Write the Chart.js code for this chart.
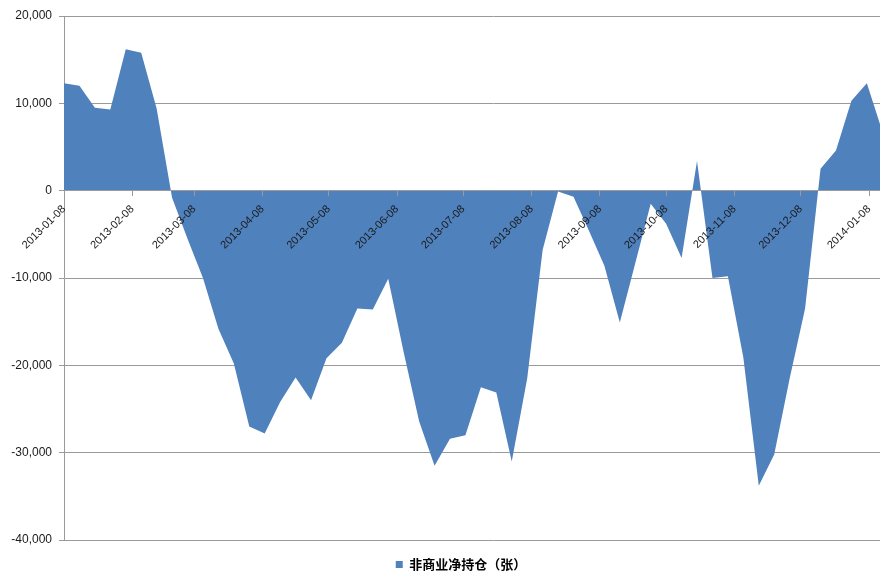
<!DOCTYPE html>
<html>
<head>
<meta charset="utf-8">
<script src="https://cdn.jsdelivr.net/npm/chart.js@4/dist/chart.umd.min.js"></script>
<style>
  html, body { margin: 0; padding: 0; background: #fff; overflow: hidden; width: 880px; height: 572px; }
  #wrap { width: 922px; height: 572px; }
</style>
</head>
<body>
<div id="wrap"><canvas id="cotChart" width="922" height="572"></canvas></div>
<script>
// Weekly report dates (Tuesdays)
const weekDates = [
    '2013-01-08', '2013-01-15', '2013-01-22', '2013-01-29', '2013-02-05', '2013-02-12',
    '2013-02-19', '2013-02-26', '2013-03-05', '2013-03-12', '2013-03-19', '2013-03-26',
    '2013-04-02', '2013-04-09', '2013-04-16', '2013-04-23', '2013-04-30', '2013-05-07',
    '2013-05-14', '2013-05-21', '2013-05-28', '2013-06-04', '2013-06-11', '2013-06-18',
    '2013-06-25', '2013-07-02', '2013-07-09', '2013-07-16', '2013-07-23', '2013-07-30',
    '2013-08-06', '2013-08-13', '2013-08-20', '2013-08-27', '2013-09-03', '2013-09-10',
    '2013-09-17', '2013-09-24', '2013-10-01', '2013-10-08', '2013-10-15', '2013-10-22',
    '2013-10-29', '2013-11-05', '2013-11-12', '2013-11-19', '2013-11-26', '2013-12-03',
    '2013-12-10', '2013-12-17', '2013-12-24', '2013-12-31', '2014-01-07', '2014-01-14'
];

// 非商业净持仓（张）
const netPosition = [
    12300, 12000, 9500, 9300, 16200, 15800,
    9400, -800, -5500, -10000, -15800, -19800,
    -27000, -27800, -24200, -21400, -24000, -19200,
    -17400, -13500, -13600, -10100, -18500, -26400,
    -31500, -28400, -28000, -22500, -23100, -31000,
    -21500, -6800, -100, -700, -4600, -8600,
    -15100, -8300, -1500, -3800, -7700, 3400,
    -10000, -9800, -19100, -33800, -30200, -21500,
    -13500, 2500, 4600, 10300, 12300, 6800
];

// Month tick labels on the date axis
const tickLabels = [
    '2013-01-08', '2013-02-08', '2013-03-08', '2013-04-08', '2013-05-08', '2013-06-08',
    '2013-07-08', '2013-08-08', '2013-09-08', '2013-10-08', '2013-11-08', '2013-12-08',
    '2014-01-08'
];

const yTicks = { min: -40000, max: 20000, step: 10000 };
const seriesName = '非商业净持仓（张）';

// days since first date (no date adapter available, so use a linear axis)
const baseDay = Date.UTC(2013, 0, 8);
function dayOf(str) {
    const p = str.split('-').map(Number);
    return Math.round((Date.UTC(p[0], p[1] - 1, p[2]) - baseDay) / 86400000);
}

const points = weekDates.map((d, i) => ({ x: dayOf(d), y: netPosition[i] }));
const tickDays = tickLabels.map(dayOf);

const ctx = document.getElementById('cotChart').getContext('2d');
new Chart(ctx, {
    type: 'line',
    data: {
        datasets: [{
            label: seriesName,
            data: points,
            fill: 'origin',
            backgroundColor: '#4f81bd',
            borderColor: '#4f81bd',
            borderWidth: 0,
            pointRadius: 0,
            tension: 0
        }]
    },
    options: {
        responsive: false,
        animation: false,
        layout: { padding: { top: 16, right: 0, bottom: -9, left: 0 } },
        plugins: {
            tooltip: { enabled: false },
            legend: {
                position: 'bottom',
                labels: {
                    boxWidth: 7,
                    boxHeight: 7,
                    padding: 18,
                    color: '#000',
                    font: { family: '"Noto Sans CJK SC", sans-serif', size: 13, weight: 'bold' }
                }
            }
        },
        scales: {
            x: {
                type: 'linear',
                position: { y: 0 },
                min: 0,
                max: 389,
                afterBuildTicks: (scale) => {
                    scale.ticks = tickDays.map(v => ({ value: v }));
                },
                ticks: {
                    autoSkip: false,
                    minRotation: 45,
                    maxRotation: 45,
                    padding: 7,
                    z: 1,
                    color: '#1a1a1a',
                    font: { family: '"Liberation Sans", Arial, sans-serif', size: 11 },
                    callback: (v, i) => tickLabels[i]
                },
                grid: { drawOnChartArea: false, tickLength: 5, color: '#9a9a9a', z: 1 },
                border: { color: '#9a9a9a', z: 1 }
            },
            y: {
                min: yTicks.min,
                max: yTicks.max,
                afterFit: (scale) => { scale.width = 64; },
                ticks: {
                    stepSize: yTicks.step,
                    padding: 7,
                    color: '#1a1a1a',
                    font: { family: '"Liberation Sans", Arial, sans-serif', size: 12 },
                    callback: (v) => v.toLocaleString('en-US')
                },
                grid: { color: '#9a9a9a', tickLength: 5 },
                border: { color: '#9a9a9a' }
            }
        }
    }
});
</script>
</body>
</html>
